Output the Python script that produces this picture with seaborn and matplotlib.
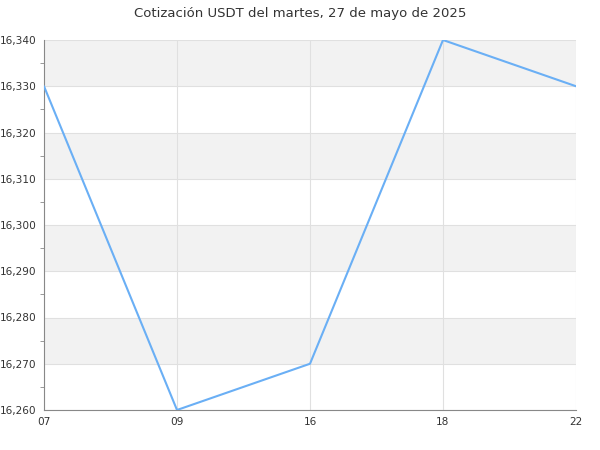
import matplotlib
matplotlib.use("Agg")
import matplotlib.pyplot as plt
import matplotlib.ticker as mticker
import numpy as np
import pandas as pd
import seaborn as sns

# datos
horas = ["07", "09", "16", "18", "22"]
precio = [16330, 16260, 16270, 16340, 16330]
titulo = "Cotización USDT del martes, 27 de mayo de 2025"

sns.set_style("white")
plt.rcParams['font.family'] = ['DejaVu Sans']

df = pd.DataFrame({"hora": horas, "precio": precio})

fig = plt.figure(figsize=(6, 4.5), dpi=100)
ax = fig.add_axes([44 / 600, 1 - 410 / 450, (576 - 44) / 600, (410 - 40) / 450])

# bandas grises alternas
y_min, y_max = 16260, 16340
for y0 in range(y_min, y_max, 20):
    ax.axhspan(y0 + 10, y0 + 20, color="#f2f2f2", zorder=0, lw=0)

sns.lineplot(data=df, x="hora", y="precio", ax=ax, color="#6aaff5", lw=1.5,
             zorder=3)

ax.set_xlim(0, len(horas) - 1)
ax.set_ylim(y_min, y_max)
ax.set_xticks(range(len(horas)))
ax.set_xticklabels(horas)
ax.yaxis.set_major_locator(mticker.MultipleLocator(10))
ax.yaxis.set_minor_locator(mticker.MultipleLocator(5))
ax.yaxis.set_major_formatter(mticker.StrMethodFormatter("{x:,.0f}"))

ax.grid(True, which="major", color="#e0e0e0", lw=0.8, zorder=1)
ax.set_axisbelow(True)

for s in ["top", "right"]:
    ax.spines[s].set_visible(False)
for s in ["left", "bottom"]:
    ax.spines[s].set_color("#888888")
    ax.spines[s].set_linewidth(0.8)

ax.tick_params(axis="y", which="major", length=5, color="#888888",
               labelsize=7.6, labelcolor="#333333", pad=0.5)
ax.tick_params(axis="y", which="minor", length=3, color="#888888", left=True)
ax.tick_params(axis="x", length=0, labelsize=7.6, labelcolor="#333333", pad=5)

ax.set_xlabel("")
ax.set_ylabel("")
fig.suptitle(titulo, y=0.985, fontsize=9.5, color="#333333")

fig.savefig("out.png", dpi=100)
